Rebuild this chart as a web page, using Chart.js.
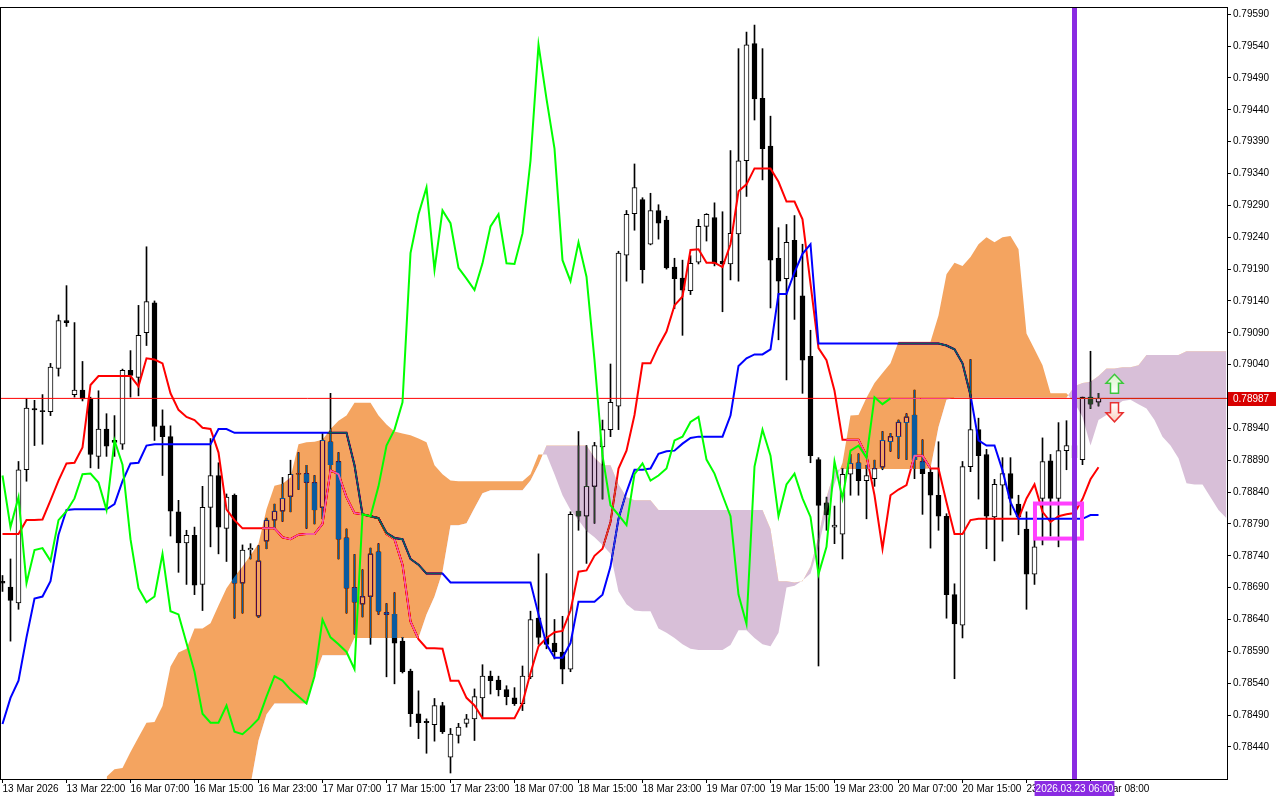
<!DOCTYPE html>
<html>
<head>
<meta charset="utf-8">
<title>H1 Ichimoku</title>
<script src="https://cdn.jsdelivr.net/npm/chart.js@4.4.1/dist/chart.umd.min.js"></script>
<style>
    html, body { margin: 0; padding: 0; background: #fff; }
    canvas { display: block; }
</style>
</head>
<body>
<canvas id="chart" width="1280" height="800"></canvas>
<script>
// H1 candles, bar 0 = 13 Mar 2026 14:00
const opens = [0.78700,0.78691,0.78666,0.78875,0.78971,0.78968,0.78966,0.79034,0.79109,0.78993,
    0.79000,0.78986,0.78896,0.78939,0.78921,0.78915,0.79031,0.79020,0.79090,0.79137,
    0.78944,0.78927,0.78809,0.78760,0.78772,0.78695,0.78816,0.78866,0.78783,0.78835,
    0.78697,0.78749,0.78645,0.78763,0.78796,0.78810,0.78833,0.78868,0.78869,0.78855,
    0.78816,0.78919,0.78888,0.78768,0.78690,0.78664,0.78676,0.78746,0.78651,0.78648,
    0.78606,0.78559,0.78492,0.78480,0.78475,0.78505,0.78424,0.78458,0.78477,0.78484,
    0.78517,0.78551,0.78545,0.78530,0.78517,0.78508,0.78550,0.78642,0.78612,0.78603,
    0.78589,0.78562,0.78810,0.78802,0.78849,0.78911,0.78938,0.78975,0.79212,0.79277,
    0.79299,0.79229,0.79282,0.79267,0.79193,0.79176,0.79156,0.79201,0.79257,0.79271,
    0.79202,0.79198,0.79245,0.79360,0.79544,0.79458,0.79383,0.79207,0.79175,0.79235,
    0.79148,0.79053,0.78891,0.78823,0.78785,0.78774,0.78868,0.78886,0.78858,0.78861,
    0.78879,0.78919,0.78927,0.78949,0.78961,0.78888,0.78871,0.78835,0.78802,0.78679,
    0.78631,0.78880,0.78938,0.78899,0.78801,0.78851,0.78869,0.78821,0.78782,0.78711,
    0.78830,0.78889,0.78830,0.78905,0.78913,0.78891,0.78989,0.78981];
const highs = [0.78709,0.78735,0.78888,0.78987,0.78984,0.78993,0.79042,0.79118,0.79164,0.79106,
    0.79045,0.78989,0.78999,0.78963,0.78960,0.79033,0.79062,0.79133,0.79225,0.79140,
    0.78969,0.78944,0.78827,0.78780,0.78785,0.78849,0.78924,0.78886,0.78837,0.78837,
    0.78757,0.78759,0.78756,0.78799,0.78821,0.78863,0.78890,0.78902,0.78882,0.78866,
    0.78932,0.78995,0.78902,0.78782,0.78742,0.78718,0.78752,0.78759,0.78665,0.78682,
    0.78612,0.78562,0.78528,0.78484,0.78516,0.78510,0.78469,0.78477,0.78491,0.78531,
    0.78569,0.78559,0.78551,0.78536,0.78533,0.78567,0.78653,0.78743,0.78712,0.78640,
    0.78645,0.78809,0.78935,0.78913,0.78918,0.78953,0.79041,0.79218,0.79282,0.79355,
    0.79302,0.79309,0.79291,0.79273,0.79207,0.79204,0.79211,0.79268,0.79277,0.79294,
    0.79280,0.79376,0.79536,0.79562,0.79573,0.79536,0.79430,0.79255,0.79260,0.79274,
    0.79229,0.79094,0.78894,0.78832,0.78818,0.78877,0.78899,0.78900,0.78882,0.78890,
    0.78935,0.78932,0.78953,0.78963,0.79000,0.78922,0.78876,0.78919,0.78806,0.78696,
    0.78888,0.79048,0.78956,0.78907,0.78860,0.78894,0.78894,0.78835,0.78809,0.78793,
    0.78925,0.78899,0.78949,0.78952,0.78924,0.78989,0.79061,0.78995];
const lows = [0.78684,0.78606,0.78656,0.78857,0.78913,0.78915,0.78960,0.79022,0.79100,0.78989,
    0.78983,0.78878,0.78877,0.78896,0.78896,0.78907,0.78989,0.78991,0.79070,0.78921,
    0.78866,0.78771,0.78714,0.78695,0.78679,0.78654,0.78754,0.78743,0.78731,0.78642,
    0.78650,0.78735,0.78643,0.78751,0.78782,0.78794,0.78809,0.78844,0.78783,0.78790,
    0.78798,0.78871,0.78735,0.78650,0.78617,0.78644,0.78601,0.78648,0.78550,0.78539,
    0.78556,0.78472,0.78453,0.78430,0.78449,0.78461,0.78399,0.78446,0.78471,0.78450,
    0.78484,0.78523,0.78520,0.78506,0.78505,0.78497,0.78547,0.78601,0.78594,0.78578,
    0.78539,0.78558,0.78780,0.78728,0.78791,0.78829,0.78927,0.78938,0.79171,0.79251,
    0.79168,0.79228,0.79237,0.79190,0.79128,0.79086,0.79150,0.79198,0.79234,0.79195,
    0.79123,0.79173,0.79171,0.79304,0.79424,0.79330,0.79129,0.79079,0.79016,0.79111,
    0.78995,0.78886,0.78567,0.78780,0.78759,0.78735,0.78835,0.78835,0.78798,0.78849,
    0.78875,0.78904,0.78893,0.78891,0.78861,0.78805,0.78752,0.78780,0.78642,0.78547,
    0.78611,0.78872,0.78829,0.78751,0.78732,0.78763,0.78804,0.78773,0.78656,0.78695,
    0.78757,0.78771,0.78754,0.78875,0.78871,0.78883,0.78971,0.78975];
const closes = [0.78697,0.78670,0.78875,0.78972,0.78969,0.78966,0.79036,0.79109,0.79106,0.79000,
    0.78986,0.78899,0.78939,0.78912,0.78918,0.79031,0.79023,0.79086,0.79139,0.78943,
    0.78927,0.78810,0.78760,0.78772,0.78694,0.78816,0.78866,0.78785,0.78832,0.78697,
    0.78749,0.78752,0.78732,0.78796,0.78810,0.78830,0.78868,0.78869,0.78855,0.78812,
    0.78921,0.78883,0.78766,0.78689,0.78667,0.78676,0.78743,0.78653,0.78648,0.78603,
    0.78558,0.78492,0.78478,0.78478,0.78505,0.78464,0.78460,0.78471,0.78484,0.78519,
    0.78551,0.78544,0.78530,0.78519,0.78508,0.78551,0.78640,0.78612,0.78601,0.78589,
    0.78562,0.78805,0.78802,0.78849,0.78913,0.78938,0.78981,0.79215,0.79276,0.79318,
    0.79189,0.79282,0.79262,0.79192,0.79175,0.79157,0.79199,0.79257,0.79276,0.79199,
    0.79198,0.79246,0.79360,0.79542,0.79457,0.79379,0.79204,0.79171,0.79232,0.79178,
    0.79047,0.78897,0.78819,0.78804,0.78788,0.78868,0.78885,0.78858,0.78866,0.78877,
    0.78921,0.78927,0.78950,0.78958,0.78891,0.78869,0.78835,0.78802,0.78679,0.78633,
    0.78880,0.78938,0.78897,0.78802,0.78852,0.78869,0.78830,0.78801,0.78711,0.78754,
    0.78888,0.78830,0.78905,0.78913,0.78894,0.78989,0.78978,0.78987];

// Tenkan-sen (red) and Kijun-sen (blue), one value per bar
const tenkan = [0.78774,0.78774,0.78774,0.78796,0.78796,0.78797,0.78827,0.78858,0.78885,0.78886,
    0.78910,0.79008,0.79022,0.79022,0.79022,0.79022,0.79022,0.79006,0.79050,0.79048,
    0.79042,0.78995,0.78969,0.78958,0.78953,0.78941,0.78939,0.78902,0.78813,0.78796,
    0.78783,0.78783,0.78783,0.78783,0.78783,0.78769,0.78766,0.78773,0.78774,0.78774,
    0.78790,0.78874,0.78868,0.78832,0.78807,0.78805,0.78802,0.78799,0.78774,0.78766,
    0.78726,0.78637,0.78609,0.78595,0.78595,0.78594,0.78544,0.78544,0.78517,0.78505,
    0.78485,0.78485,0.78485,0.78485,0.78485,0.78509,0.78556,0.78598,0.78611,0.78620,
    0.78622,0.78654,0.78715,0.78717,0.78740,0.78751,0.78793,0.78877,0.78905,0.78961,
    0.79042,0.79042,0.79069,0.79092,0.79133,0.79147,0.79220,0.79221,0.79200,0.79200,
    0.79193,0.79229,0.79312,0.79323,0.79348,0.79348,0.79348,0.79327,0.79296,0.79296,
    0.79268,0.79167,0.79066,0.79047,0.78999,0.78922,0.78922,0.78922,0.78897,0.78835,
    0.78751,0.78835,0.78844,0.78851,0.78897,0.78897,0.78877,0.78877,0.78824,0.78774,
    0.78774,0.78796,0.78798,0.78798,0.78798,0.78798,0.78798,0.78798,0.78830,0.78852,
    0.78809,0.78793,0.78802,0.78805,0.78807,0.78829,0.78860,0.78879];
const kijun = [0.78476,0.78517,0.78544,0.78612,0.78673,0.78676,0.78700,0.78773,0.78812,0.78813,
    0.78813,0.78813,0.78813,0.78813,0.78821,0.78857,0.78885,0.78886,0.78913,0.78915,
    0.78915,0.78915,0.78915,0.78915,0.78915,0.78915,0.78915,0.78939,0.78939,0.78933,
    0.78933,0.78933,0.78933,0.78933,0.78933,0.78933,0.78933,0.78933,0.78933,0.78933,
    0.78933,0.78933,0.78933,0.78933,0.78882,0.78805,0.78802,0.78799,0.78776,0.78768,
    0.78766,0.78735,0.78726,0.78712,0.78712,0.78712,0.78698,0.78698,0.78698,0.78698,
    0.78698,0.78698,0.78698,0.78698,0.78698,0.78698,0.78698,0.78648,0.78601,0.78580,
    0.78580,0.78603,0.78668,0.78668,0.78668,0.78679,0.78723,0.78798,0.78840,0.78875,
    0.78875,0.78877,0.78900,0.78904,0.78905,0.78916,0.78925,0.78927,0.78927,0.78927,
    0.78927,0.78960,0.79038,0.79050,0.79056,0.79056,0.79064,0.79151,0.79151,0.79185,
    0.79214,0.79229,0.79073,0.79073,0.79073,0.79073,0.79073,0.79073,0.79073,0.79073,
    0.79073,0.79073,0.79073,0.79073,0.79073,0.79073,0.79073,0.79073,0.79070,0.79064,
    0.79042,0.78992,0.78921,0.78913,0.78913,0.78874,0.78824,0.78798,0.78798,0.78798,
    0.78798,0.78798,0.78798,0.78798,0.78798,0.78798,0.78804,0.78804];

// Senkou spans, from bar 13 up to bar 153 (26 bars ahead of the last candle)
const cloudStart = 13;
const senkouA = [0.78393,0.78405,0.78407,0.78432,0.78455,0.78478,0.78479,0.78504,0.78566,0.78588,
    0.78594,0.78626,0.78626,0.78634,0.78662,0.78689,0.78707,0.78723,0.78741,0.78759,
    0.78813,0.78850,0.78853,0.78863,0.78915,0.78918,0.78919,0.78922,0.78939,0.78952,
    0.78960,0.78980,0.78980,0.78980,0.78960,0.78946,0.78935,0.78932,0.78929,0.78924,
    0.78918,0.78882,0.78868,0.78858,0.78857,0.78857,0.78857,0.78857,0.78857,0.78857,
    0.78857,0.78857,0.78857,0.78868,0.78899,0.78899,0.78868,0.78835,0.78812,0.78796,
    0.78779,0.78769,0.78757,0.78743,0.78684,0.78664,0.78654,0.78653,0.78653,0.78626,
    0.78619,0.78611,0.78601,0.78594,0.78592,0.78592,0.78592,0.78592,0.78600,0.78623,
    0.78623,0.78611,0.78601,0.78598,0.78619,0.78690,0.78693,0.78701,0.78712,0.78754,
    0.78809,0.78853,0.78886,0.78960,0.78961,0.78988,0.79011,0.79027,0.79042,0.79076,
    0.79076,0.79076,0.79076,0.79076,0.79117,0.79182,0.79200,0.79195,0.79209,0.79229,
    0.79240,0.79232,0.79240,0.79242,0.79221,0.79089,0.79064,0.79039,0.78995,0.78995,
    0.78995,0.78980,0.78958,0.78913,0.78953,0.78961,0.78974,0.78983,0.78985,0.78978,
    0.78971,0.78953,0.78927,0.78913,0.78893,0.78854,0.78852,0.78852,0.78832,0.78812,
    0.78799];
const senkouB = [0.78330,0.78330,0.78330,0.78330,0.78330,0.78330,0.78330,0.78330,0.78330,0.78330,
    0.78330,0.78330,0.78350,0.78350,0.78350,0.78350,0.78350,0.78350,0.78380,0.78450,
    0.78491,0.78508,0.78508,0.78508,0.78508,0.78508,0.78550,0.78584,0.78584,0.78584,
    0.78584,0.78611,0.78611,0.78611,0.78611,0.78611,0.78611,0.78611,0.78611,0.78611,
    0.78648,0.78676,0.78715,0.78788,0.78788,0.78791,0.78815,0.78838,0.78843,0.78843,
    0.78843,0.78843,0.78843,0.78858,0.78883,0.78913,0.78913,0.78913,0.78913,0.78913,
    0.78913,0.78894,0.78882,0.78882,0.78852,0.78832,0.78827,0.78827,0.78827,0.78812,
    0.78812,0.78812,0.78812,0.78812,0.78812,0.78812,0.78812,0.78812,0.78812,0.78812,
    0.78812,0.78812,0.78812,0.78782,0.78700,0.78700,0.78698,0.78700,0.78723,0.78770,
    0.78832,0.78874,0.78876,0.78876,0.78876,0.78876,0.78876,0.78876,0.78876,0.78876,
    0.78876,0.78876,0.78876,0.78877,0.78942,0.78985,0.78988,0.78988,0.78988,0.78988,
    0.78988,0.78988,0.78988,0.78988,0.78988,0.78988,0.78988,0.78988,0.78988,0.78988,
    0.78988,0.79006,0.79011,0.79013,0.79022,0.79034,0.79034,0.79036,0.79036,0.79039,
    0.79055,0.79055,0.79055,0.79055,0.79055,0.79061,0.79061,0.79061,0.79061,0.79061,
    0.79061];
const chikouShift = 26;

const bidPrice = 0.78987;
const yTicks = [0.79590,0.79540,0.79490,0.79440,0.79390,0.79340,0.79290,0.79240,0.79190,0.79140,
    0.79090,0.79040,0.78940,0.78890,0.78840,0.78790,0.78740,0.78690,0.78640,0.78590,
    0.78540,0.78490,0.78440];
const xTickBars = [0,8,16,24,32,40,48,56,64,72,80,88,96,104,112,120,128,136];
const xTickLabels = ['13 Mar 2026','13 Mar 22:00','16 Mar 07:00','16 Mar 15:00','16 Mar 23:00',
    '17 Mar 07:00','17 Mar 15:00','17 Mar 23:00','18 Mar 07:00','18 Mar 15:00','18 Mar 23:00',
    '19 Mar 07:00','19 Mar 15:00','19 Mar 23:00','20 Mar 07:00','20 Mar 15:00','23 Mar 00:00',
    '23 Mar 08:00'];

// chart objects
const vlineBar = 134;
const vlineLabel = '2026.03.23 06:00';
const boxBars = [129.06, 134.94];
const boxPrices = [0.78822, 0.78767];
const arrowBar = 139;
const arrowUpPrice = 0.78995;
const arrowDownPrice = 0.78980;

const xMin = -0.1875;
const xMax = 153.0625;
const yMin = 0.783896;
const yMax = 0.795998;

const bars = opens.map((_, i) => i);
const bull = bars.map(i => closes[i] >= opens[i]);
const wickData = bars.map(i => ({ x: i, y: [lows[i], highs[i]] }));
const bodyData = bars.map(i => ({ x: i, y: [opens[i], closes[i]] }));
const tenkanData = bars.map(i => ({ x: i, y: tenkan[i] }));
const kijunData = bars.map(i => ({ x: i, y: kijun[i] }));
const spanA = senkouA.map((v, k) => ({ x: cloudStart + k, y: v }));
const spanB = senkouB.map((v, k) => ({ x: cloudStart + k, y: v }));
const chikouData = bars.slice(0, bars.length - chikouShift).map(i => ({ x: i, y: closes[i + chikouShift] }));

const SPAN_B = 5;
const SPAN_A = 6;
const font = { family: 'Liberation Sans', size: 10 };

// opaque white page, the "difference" blend of the cloud needs it
const paper = {
    id: 'paper',
    beforeDraw(chart) {
        const ctx = chart.ctx;
        ctx.save();
        ctx.globalCompositeOperation = 'source-over';
        ctx.fillStyle = '#fff';
        ctx.fillRect(0, 0, chart.width, chart.height);
        ctx.restore();
    }
};

// the cloud is blended with "difference", so candles and lines under it change colour
const cloudBlend = {
    id: 'cloudBlend',
    beforeDatasetDraw(chart, args) {
        if (args.index === SPAN_B) {
            chart.ctx.globalCompositeOperation = 'difference';
        }
    },
    afterDatasetDraw(chart, args) {
        if (args.index === SPAN_A) {
            chart.ctx.globalCompositeOperation = 'source-over';
        }
    }
};

function drawArrow(ctx, x, y, up, stroke, tint) {
    const s = up ? -1 : 1;
    ctx.save();
    ctx.beginPath();
    ctx.moveTo(x - 4, y);
    ctx.lineTo(x - 4, y + s * 10);
    ctx.lineTo(x - 8.5, y + s * 10);
    ctx.lineTo(x, y + s * 19);
    ctx.lineTo(x + 8.5, y + s * 10);
    ctx.lineTo(x + 4, y + s * 10);
    ctx.lineTo(x + 4, y);
    ctx.closePath();
    const g = ctx.createLinearGradient(x, y, x, y + s * 19);
    g.addColorStop(0, '#ffffff');
    g.addColorStop(1, tint);
    ctx.fillStyle = g;
    ctx.fill();
    ctx.lineWidth = 1.5;
    ctx.strokeStyle = stroke;
    ctx.stroke();
    ctx.restore();
}

const overlays = {
    id: 'overlays',
    afterDraw(chart) {
        const { ctx, chartArea: a, scales: { x, y } } = chart;
        ctx.save();
        ctx.beginPath();
        ctx.rect(a.left, a.top, a.right - a.left, a.bottom - a.top);
        ctx.clip();

        // selection box
        ctx.strokeStyle = '#ff40ff';
        ctx.lineWidth = 4;
        const bx0 = x.getPixelForValue(boxBars[0]);
        const bx1 = x.getPixelForValue(boxBars[1]);
        const by0 = y.getPixelForValue(boxPrices[0]);
        const by1 = y.getPixelForValue(boxPrices[1]);
        ctx.strokeRect(bx0, by0, bx1 - bx0, by1 - by0);

        // vertical line
        const vx = x.getPixelForValue(vlineBar);
        ctx.fillStyle = '#8a2be2';
        ctx.fillRect(vx - 2.5, a.top, 5, a.bottom - a.top);

        // arrows
        const ax = x.getPixelForValue(arrowBar);
        drawArrow(ctx, ax, y.getPixelForValue(arrowUpPrice), true, '#3cc83c', '#d8f4c8');
        drawArrow(ctx, ax, y.getPixelForValue(arrowDownPrice), false, '#e83030', '#fad0c0');
        ctx.restore();

        // frame
        ctx.save();
        ctx.strokeStyle = '#000';
        ctx.lineWidth = 1;
        ctx.strokeRect(a.left - 0.5, a.top - 0.5, a.right - a.left + 1, a.bottom - a.top + 1);

        // bid label on the price axis
        const py = Math.round(y.getPixelForValue(bidPrice));
        ctx.fillStyle = '#d80000';
        ctx.fillRect(a.right + 1, py - 6, 48, 14);
        ctx.fillStyle = '#fff';
        ctx.font = '10px "Liberation Sans"';
        ctx.textBaseline = 'middle';
        ctx.textAlign = 'left';
        ctx.fillText(bidPrice.toFixed(5), a.right + 6, py + 1);

        // time label of the vertical line
        ctx.fillStyle = '#8a2be2';
        const tw = ctx.measureText(vlineLabel).width + 2;
        ctx.fillRect(vx - tw / 2, a.bottom + 2, tw, 15);
        ctx.fillStyle = '#fff';
        ctx.textAlign = 'center';
        ctx.fillText(vlineLabel, vx, a.bottom + 10);
        ctx.restore();
    }
};

new Chart(document.getElementById('chart'), {
    type: 'line',
    data: {
        datasets: [
            {
                type: 'bar', data: wickData, backgroundColor: '#000', borderWidth: 0,
                barThickness: 1, grouped: false, order: 10
            },
            {
                type: 'bar', data: bodyData,
                backgroundColor: (c) => bull[c.dataIndex] ? '#fff' : '#000',
                borderColor: '#000', borderWidth: 1, borderSkipped: false,
                barThickness: 5, grouped: false, order: 9
            },
            {
                data: tenkanData, borderColor: '#ff0000', borderWidth: 2,
                pointRadius: 0, fill: false, order: 6
            },
            {
                data: kijunData, borderColor: '#0000ff', borderWidth: 2,
                pointRadius: 0, fill: false, order: 5
            },
            {
                data: [{ x: xMin, y: bidPrice }, { x: xMax, y: bidPrice }],
                borderColor: '#ff0000', borderWidth: 1, pointRadius: 0, fill: false, order: 4
            },
            {
                data: spanB, borderWidth: 0, borderColor: 'rgba(0,0,0,0)',
                pointRadius: 0, fill: false, order: 3
            },
            {
                data: spanA, borderWidth: 0, borderColor: 'rgba(0,0,0,0)', pointRadius: 0,
                fill: { target: SPAN_B, above: '#0b5b9f', below: '#274027' }, order: 2
            },
            {
                data: chikouData, borderColor: '#00ff00', borderWidth: 2,
                pointRadius: 0, fill: false, order: 1
            }
        ]
    },
    options: {
        responsive: false,
        animation: false,
        devicePixelRatio: 1,
        events: [],
        layout: { padding: { left: 1, top: 2, right: 0, bottom: 0 } },
        plugins: {
            legend: { display: false },
            tooltip: { enabled: false },
            filler: { drawTime: 'beforeDatasetDraw' }
        },
        scales: {
            x: {
                type: 'linear', min: xMin, max: xMax, offset: false,
                grid: { display: true, drawOnChartArea: false, offset: false, tickLength: 4, color: '#000' },
                border: { display: true, color: '#000' },
                afterBuildTicks: (scale) => { scale.ticks = xTickBars.map(v => ({ value: v })); },
                afterFit: (scale) => { scale.height = 21; },
                ticks: {
                    autoSkip: false, maxRotation: 0, minRotation: 0, align: 'start',
                    padding: 0, color: '#000', font,
                    callback: (v, i) => xTickLabels[i]
                }
            },
            y: {
                type: 'linear', position: 'right', min: yMin, max: yMax, beginAtZero: false,
                grid: { display: true, drawOnChartArea: false, tickLength: 4, color: '#000' },
                border: { display: true, color: '#000' },
                afterBuildTicks: (scale) => { scale.ticks = yTicks.map(v => ({ value: v })); },
                afterFit: (scale) => { scale.width = 53; },
                ticks: {
                    padding: 2, color: '#000', font,
                    callback: (v) => v.toFixed(5)
                }
            }
        }
    },
    plugins: [paper, cloudBlend, overlays]
});
</script>
</body>
</html>
